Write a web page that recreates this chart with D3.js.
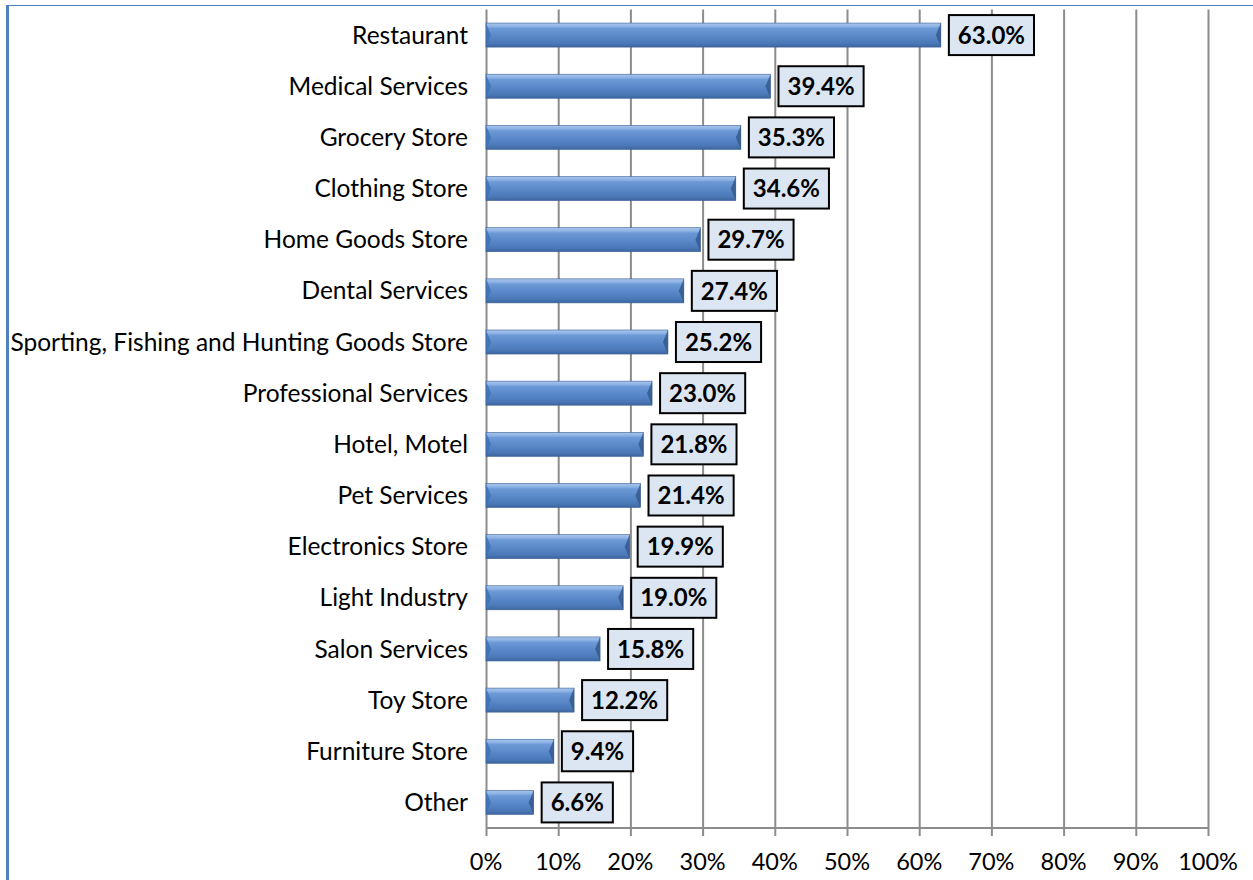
<!DOCTYPE html>
<html>
<head>
<meta charset="utf-8">
<script src="https://cdn.jsdelivr.net/npm/d3@7/dist/d3.min.js"></script>
<style>
  html, body { margin: 0; padding: 0; background: #fff; }
  svg { display: block; font-family: Lato, "Open Sans", sans-serif; }
</style>
</head>
<body>
<svg id="chart" width="1253" height="880"></svg>
<script>
// data
var categories = ["Restaurant", "Medical Services", "Grocery Store", "Clothing Store", "Home Goods Store",
  "Dental Services", "Sporting, Fishing and Hunting Goods Store", "Professional Services", "Hotel, Motel",
  "Pet Services", "Electronics Store", "Light Industry", "Salon Services", "Toy Store", "Furniture Store", "Other"];
var values = [63.0, 39.4, 35.3, 34.6, 29.7, 27.4, 25.2, 23.0, 21.8, 21.4, 19.9, 19.0, 15.8, 12.2, 9.4, 6.6];
var tickValues = [0, 10, 20, 30, 40, 50, 60, 70, 80, 90, 100];

var svg = d3.select("#chart");
var W = 1253, H = 880;
var plotL = 486, plotR = 1208, plotT = 9.5, plotB = 828;

// outer frame (only top/left edges visible)
svg.append("line").attr("x1", 6).attr("x2", W).attr("y1", 5.5).attr("y2", 5.5).attr("stroke", "#4f81bd").attr("stroke-width", 1);
svg.append("rect").attr("x", 6).attr("y", 5).attr("width", 3).attr("height", H).attr("fill", "#4f81bd");

var x = d3.scaleLinear().domain([0, 100]).range([plotL, plotR]);
var y = d3.scaleBand().domain(categories).range([plotT, plotB]).paddingInner(0.53).paddingOuter(0.265);

var defs = svg.append("defs");
var g = defs.append("linearGradient").attr("id", "barGrad").attr("x1", 0).attr("y1", 0).attr("x2", 0).attr("y2", 1);
[["0%", "#a9c4ea"], ["14%", "#8db3e6"], ["22%", "#6d99d6"], ["60%", "#5685c6"], ["85%", "#4a77b6"], ["100%", "#3d659d"]]
  .forEach(function (s) { g.append("stop").attr("offset", s[0]).attr("stop-color", s[1]); });

// gridlines
svg.append("g").selectAll("line").data(tickValues).join("line")
  .attr("x1", function (d) { return x(d) + 0.5; }).attr("x2", function (d) { return x(d) + 0.5; })
  .attr("y1", plotT).attr("y2", plotB + 8)
  .attr("stroke", "#8c8c8c").attr("stroke-width", 2);

// bottom axis line
svg.append("line").attr("x1", plotL).attr("x2", plotR + 1).attr("y1", plotB).attr("y2", plotB)
  .attr("stroke", "#8c8c8c").attr("stroke-width", 2);

// tick labels
svg.append("g").selectAll("text").data(tickValues).join("text")
  .attr("x", function (d) { return x(d); }).attr("y", 870)
  .attr("text-anchor", "middle").attr("font-size", 23.5).attr("fill", "#000")
  .text(function (d) { return d + "%"; });

// category labels
svg.append("g").selectAll("text").data(categories).join("text")
  .attr("x", plotL - 18).attr("y", function (d) { return y(d) + y.bandwidth() / 2; })
  .attr("dy", "0.35em").attr("text-anchor", "end").attr("font-size", 24.5).attr("fill", "#000")
  .text(function (d) { return d; });

// bars with bevelled ends
var bars = svg.append("g").selectAll("g").data(values).join("g");
var bv = 5;
bars.append("rect")
  .attr("x", x(0)).attr("y", function (d, i) { return y(categories[i]); })
  .attr("width", function (d) { return x(d) - x(0); }).attr("height", y.bandwidth())
  .attr("fill", "url(#barGrad)").attr("stroke", "#3b6397").attr("stroke-width", 0.6);
bars.append("path")
  .attr("d", function (d, i) {
    var y0 = y(categories[i]), h = y.bandwidth(), x0 = x(0);
    return "M" + x0 + "," + y0 + "L" + (x0 + bv) + "," + (y0 + h / 2) + "L" + x0 + "," + (y0 + h) + "Z";
  }).attr("fill", "#3f6fb0").attr("opacity", 0.8);
bars.append("path")
  .attr("d", function (d, i) {
    var y0 = y(categories[i]), h = y.bandwidth(), x1 = x(d);
    return "M" + x1 + "," + y0 + "L" + (x1 - bv) + "," + (y0 + h / 2) + "L" + x1 + "," + (y0 + h) + "Z";
  }).attr("fill", "#35598c").attr("opacity", 0.85);

// value labels in boxes
var labels = svg.append("g").selectAll("g").data(values).join("g")
  .attr("transform", function (d, i) { return "translate(" + (x(d) + 8) + "," + (y(categories[i]) + y.bandwidth() / 2) + ")"; });
labels.each(function (d) {
  var gl = d3.select(this);
  var t = gl.append("text").attr("x", 0).attr("y", 0).attr("dy", "0.36em")
    .attr("font-size", 24).attr("font-weight", "bold").attr("fill", "#000")
    .text(d.toFixed(1) + "%");
  var w = t.node().getComputedTextLength();
  var pad = 9;
  gl.insert("rect", "text").attr("x", 0).attr("y", -20).attr("width", w + pad * 2).attr("height", 40)
    .attr("fill", "#dce6f2").attr("stroke", "#000").attr("stroke-width", 2);
  t.attr("x", pad);
});
</script>
</body>
</html>
